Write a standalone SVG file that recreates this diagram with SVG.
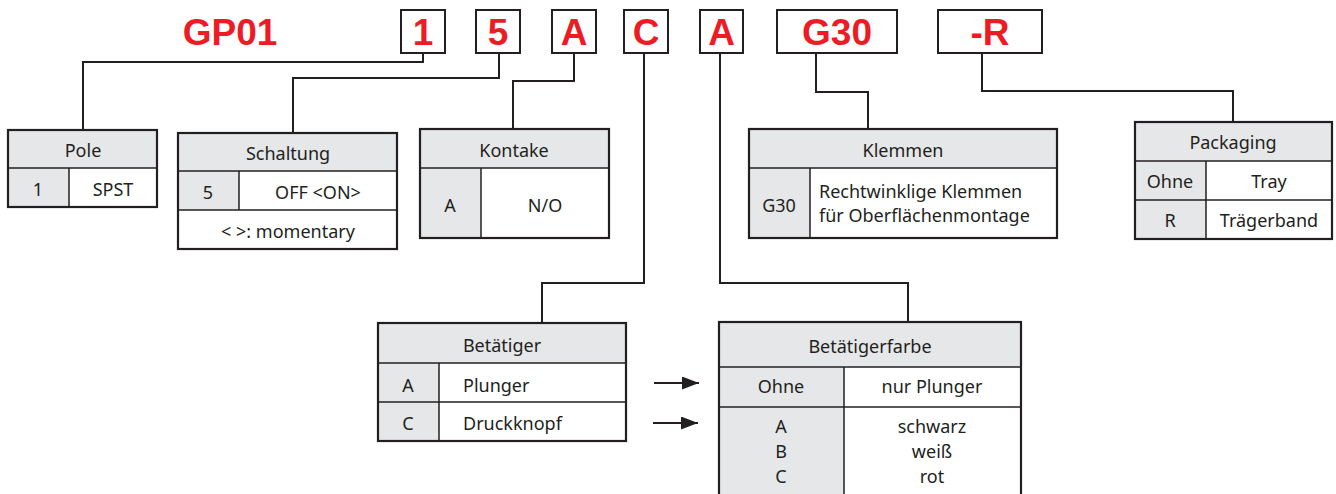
<svg xmlns="http://www.w3.org/2000/svg" width="1336" height="494" viewBox="0 0 1336 494">
<style>
.code{font-family:"Liberation Sans",Arial,sans-serif;font-weight:bold;font-size:37px;fill:#ED1C24;text-anchor:middle}
.cb{fill:#fff;stroke:#231F20;stroke-width:2}
.t{font-family:"Noto Sans","DejaVu Sans",sans-serif;font-size:18px;fill:#231F20;text-anchor:middle}
.tl{font-family:"Noto Sans","DejaVu Sans",sans-serif;font-size:18px;fill:#231F20;text-anchor:start}
.g{fill:#E6E7E8}
.w{fill:#fff}
.ln{stroke:#231F20;stroke-width:1.5;fill:none}
.ob{fill:none;stroke:#231F20;stroke-width:2.2}
.con{fill:none;stroke:#231F20;stroke-width:2}
</style>
<defs>
<marker id="ah" markerWidth="17" markerHeight="13" refX="17" refY="6.5" orient="auto" markerUnits="userSpaceOnUse">
<path d="M0,0 L17,6.5 L0,13 Z" fill="#231F20"/>
</marker>
</defs>
<rect width="1336" height="494" fill="#fff"/>

<g id="codes">
<text class="code" x="230" y="45">GP01</text>
<rect class="cb" x="401" y="10" width="44" height="43"/><text class="code" x="423" y="45">1</text>
<rect class="cb" x="476" y="10" width="44" height="43"/><text class="code" x="498" y="45">5</text>
<rect class="cb" x="552" y="10" width="44" height="43"/><text class="code" x="574" y="45">A</text>
<rect class="cb" x="624" y="10" width="44" height="43"/><text class="code" x="646" y="45">C</text>
<rect class="cb" x="700" y="10" width="43" height="43"/><text class="code" x="721.5" y="45">A</text>
<rect class="cb" x="777" y="10" width="120" height="43"/><text class="code" x="837" y="45">G30</text>
<rect class="cb" x="938" y="10" width="104" height="43"/><text class="code" x="990" y="45">-R</text>
</g>

<g id="connectors">
<polyline class="con" points="423,53 423,62 83,62 83,130"/>
<polyline class="con" points="499,53 499,78 293,78 293,133"/>
<polyline class="con" points="574,53 574,81 513,81 513,129"/>
<polyline class="con" points="644,53 644,283 542,283 542,323"/>
<polyline class="con" points="720,53 720,283 908,283 908,322"/>
<polyline class="con" points="816,53 816,92 868,92 868,129"/>
<polyline class="con" points="982,53 982,91 1233,91 1233,122"/>
<line class="con" x1="654" y1="383" x2="699" y2="383" marker-end="url(#ah)"/>
<line class="con" x1="653" y1="423" x2="698" y2="423" marker-end="url(#ah)"/>
</g>

<g id="pole">
<rect class="g" x="8" y="130" width="149" height="77"/>
<rect class="w" x="69" y="168" width="88" height="39"/>
<line class="ln" x1="8" y1="168" x2="157" y2="168"/>
<line class="ln" x1="69" y1="168" x2="69" y2="207"/>
<rect class="ob" x="8" y="130" width="149" height="77"/>
<text class="t" x="83" y="157">Pole</text>
<text class="t" x="38" y="196">1</text>
<text class="t" x="113" y="196">SPST</text>
</g>

<g id="schaltung">
<rect class="g" x="178" y="133" width="219" height="77"/>
<rect class="w" x="239" y="171" width="158" height="39"/>
<rect class="w" x="178" y="210" width="219" height="39"/>
<line class="ln" x1="178" y1="171" x2="397" y2="171"/>
<line class="ln" x1="178" y1="210" x2="397" y2="210"/>
<line class="ln" x1="239" y1="171" x2="239" y2="210"/>
<rect class="ob" x="178" y="133" width="219" height="116"/>
<text class="t" x="288" y="160">Schaltung</text>
<text class="t" x="208" y="199">5</text>
<text class="t" x="318" y="199">OFF &lt;ON&gt;</text>
<text class="t" x="288" y="238">&lt; &gt;: momentary</text>
</g>

<g id="kontake">
<rect class="g" x="420" y="129" width="189" height="109"/>
<rect class="w" x="481" y="168" width="128" height="70"/>
<line class="ln" x1="420" y1="168" x2="609" y2="168"/>
<line class="ln" x1="481" y1="168" x2="481" y2="238"/>
<rect class="ob" x="420" y="129" width="189" height="109"/>
<text class="t" x="514" y="157">Kontake</text>
<text class="t" x="450" y="212">A</text>
<text class="t" x="545" y="212">N/O</text>
</g>

<g id="klemmen">
<rect class="g" x="749" y="129" width="308" height="109"/>
<rect class="w" x="810" y="168" width="247" height="70"/>
<line class="ln" x1="749" y1="168" x2="1057" y2="168"/>
<line class="ln" x1="810" y1="168" x2="810" y2="238"/>
<rect class="ob" x="749" y="129" width="308" height="109"/>
<text class="t" x="903" y="157">Klemmen</text>
<text class="t" x="779" y="212">G30</text>
<text class="tl" x="819" y="198">Rechtwinklige Klemmen</text>
<text class="tl" x="819" y="222">für Oberflächenmontage</text>
</g>

<g id="packaging">
<rect class="g" x="1135" y="122" width="197" height="117"/>
<rect class="w" x="1206" y="161" width="126" height="78"/>
<line class="ln" x1="1135" y1="161" x2="1332" y2="161"/>
<line class="ln" x1="1135" y1="200" x2="1332" y2="200"/>
<line class="ln" x1="1206" y1="161" x2="1206" y2="239"/>
<rect class="ob" x="1135" y="122" width="197" height="117"/>
<text class="t" x="1233" y="149">Packaging</text>
<text class="t" x="1170" y="188">Ohne</text>
<text class="t" x="1269" y="188">Tray</text>
<text class="t" x="1170" y="227">R</text>
<text class="t" x="1269" y="227">Trägerband</text>
</g>

<g id="betaetiger">
<rect class="g" x="378" y="323" width="248" height="118"/>
<rect class="w" x="439" y="363" width="187" height="78"/>
<line class="ln" x1="378" y1="363" x2="626" y2="363"/>
<line class="ln" x1="378" y1="402" x2="626" y2="402"/>
<line class="ln" x1="439" y1="363" x2="439" y2="441"/>
<rect class="ob" x="378" y="323" width="248" height="118"/>
<text class="t" x="502" y="352">Betätiger</text>
<text class="t" x="408" y="392">A</text>
<text class="tl" x="463" y="392">Plunger</text>
<text class="t" x="408" y="430">C</text>
<text class="tl" x="463" y="430">Druckknopf</text>
</g>

<g id="betaetigerfarbe">
<rect class="g" x="719" y="322" width="302" height="180"/>
<rect class="w" x="844" y="367" width="177" height="135"/>
<line class="ln" x1="719" y1="367" x2="1021" y2="367"/>
<line class="ln" x1="719" y1="407" x2="1021" y2="407"/>
<line class="ln" x1="844" y1="367" x2="844" y2="502"/>
<rect class="ob" x="719" y="322" width="302" height="180"/>
<text class="t" x="870" y="353">Betätigerfarbe</text>
<text class="t" x="781" y="393">Ohne</text>
<text class="t" x="932" y="393">nur Plunger</text>
<text class="t" x="781" y="433">A</text>
<text class="t" x="781" y="458">B</text>
<text class="t" x="781" y="483">C</text>
<text class="t" x="932" y="433">schwarz</text>
<text class="t" x="932" y="458">weiß</text>
<text class="t" x="932" y="483">rot</text>
</g>
</svg>
